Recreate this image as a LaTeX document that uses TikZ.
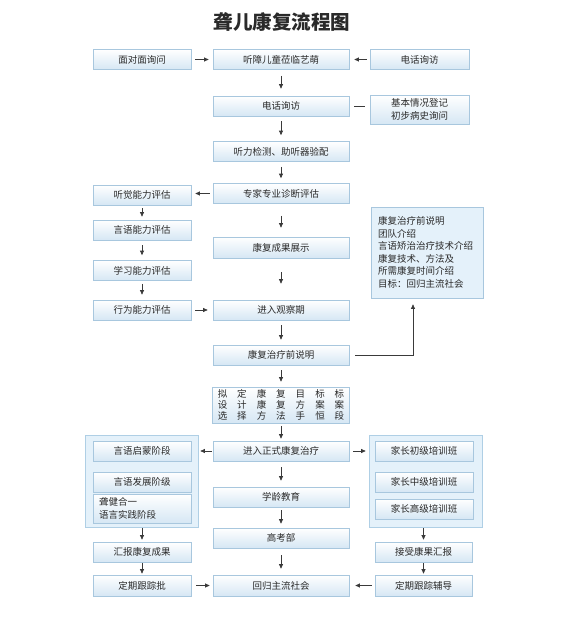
\documentclass[tikz,border=0pt]{standalone}
\usepackage{fontspec}
\setmainfont{Noto Sans CJK SC}
\usetikzlibrary{arrows.meta,calc}
\definecolor{bdr}{HTML}{A8C7DE}
\definecolor{fillb}{HTML}{D6E7F4}
\definecolor{grpfill}{HTML}{E4F1FA}
\definecolor{grpbdr}{HTML}{AFCFE5}
\definecolor{arrc}{HTML}{3A3A3A}
\definecolor{txt}{HTML}{2A2A2A}
\newcommand\boxfont{\fontsize{9.5}{12.5}\selectfont}
\newcommand\sevenrow[7]{\makebox[19.5pt]{#1}\makebox[19.5pt]{#2}\makebox[19.5pt]{#3}\makebox[19.5pt]{#4}\makebox[19.5pt]{#5}\makebox[19.5pt]{#6}\makebox[19.5pt]{#7}}
\begin{document}
\begin{tikzpicture}[x=1pt,y=-1pt,
  box/.style={draw=bdr, line width=0.7pt, top color=white, bottom color=fillb, minimum height=20pt, inner sep=0pt, font=\boxfont, text=txt, align=center},
  lw/.style={minimum width=98pt},
  cw/.style={minimum width=136pt},
  rw/.style={minimum width=99pt},
  grp/.style={draw=grpbdr, line width=0.7pt, fill=grpfill, inner sep=0pt},
  arr/.style={draw=arrc, line width=0.7pt, -{Triangle[length=4.5pt,width=4pt]}},
  ln/.style={draw=arrc, line width=0.7pt},
  shr/.style 2 args={shorten <=#1pt, shorten >=#2pt}
]
\useasboundingbox (0,0) rectangle (564,618);
\fill[white] (0,0) rectangle (564,618);
% title
\node[font=\fontsize{19.5}{22}\selectfont\bfseries, text=txt] (title) at (282,22) {聋儿康复流程图};
% groups first (background)
\node[grp, minimum width=113pt, minimum height=92pt] (LG) at (141.5,481) {};
\node[grp, minimum width=113pt, minimum height=92pt] (RG) at (425.5,481) {};
% row 1
\node[box,lw] (L1) at (142,59.5) {面对面询问};
\node[box,cw] (C1) at (281,59.5) {听障儿童莅临艺萌};
\node[box,rw] (R1) at (419.5,59.5) {电话询访};
% row 2
\node[box,cw] (C2) at (281,106) {电话询访};
\node[box,rw,minimum height=29pt,font=\fontsize{9.5}{13}\selectfont] (R2) at (419.5,109.5) {基本情况登记\\初步病史询问};
\node[box,cw] (C3) at (281,151.5) {听力检测、助听器验配};
\node[box,cw] (C4) at (281,193.5) {专家专业诊断评估};
\node[box,lw] (L4) at (142,195) {听觉能力评估};
\node[box,lw] (L5) at (142,230) {言语能力评估};
\node[box,cw,minimum height=21pt] (C5) at (281,247.5) {康复成果展示};
\node[box,lw] (L6) at (142,270.5) {学习能力评估};
\node[box,lw] (L7) at (142,310) {行为能力评估};
\node[box,cw] (C6) at (281,310) {进入观察期};
\node[grp, draw=bdr, minimum width=112pt, minimum height=91pt, text width=98pt, align=left, font=\fontsize{9.5}{12.5}\selectfont, text=txt] (RB) at (427,252.5) {康复治疗前说明\\团队介绍\\言语矫治治疗技术介绍\\康复技术、方法及\\所需康复时间介绍\\目标：回归主流社会};
\node[box,cw] (C7) at (281,355) {康复治疗前说明};
\node[box,cw,minimum height=36pt,font=\fontsize{9.5}{11}\selectfont] (C8) at (281,405) {\sevenrow{拟}{定}{康}{复}{目}{标}{标}\\\sevenrow{设}{计}{康}{复}{方}{案}{案}\\\sevenrow{选}{择}{方}{法}{手}{恒}{段}};
\node[box,cw] (C9) at (281,451) {进入正式康复治疗};
% left group inner
\node[box,lw] (LG1) at (142,451) {言语启蒙阶段};
\node[box,lw] (LG2) at (142,482) {言语发展阶级};
\node[box,lw,minimum height=29pt,text width=86pt,align=left,font=\fontsize{9.5}{13}\selectfont] (LG3) at (142,508.5) {聋健合一\\语言实践阶段};
% right group inner
\node[box,lw] (RG1) at (424,451) {家长初级培训班};
\node[box,lw] (RG2) at (424,482) {家长中级培训班};
\node[box,lw] (RG3) at (424,509) {家长高级培训班};
\node[box,cw] (C10) at (281,497) {学龄教育};
\node[box,cw] (C11) at (281,538) {高考部};
\node[box,lw] (L8) at (142,552) {汇报康复成果};
\node[box,minimum width=97pt] (R8) at (423.5,552) {接受康果汇报};
\node[box,lw,minimum height=21pt] (L9) at (142,585.5) {定期跟踪批};
\node[box,cw,minimum height=21pt] (C12) at (281,585.5) {回归主流社会};
\node[box,minimum width=97pt,minimum height=21pt] (R9) at (423.5,585.5) {定期跟踪辅导};
% connectors
\draw[arr,shr={4}{4}] (L1.east) -- (C1.west);
\draw[arr,shr={3}{5}] (R1.west) -- (C1.east);
\draw[arr,shr={6}{7}] (C1.south) -- (C2.north);
\draw[ln,shr={5}{5}] (C2.east) -- (C2.east -| R2.west);
\draw[arr,shr={5}{6}] (C2.south) -- (C3.north);
\draw[arr,shr={5}{5}] (C3.south) -- (C4.north);
\draw[arr,shr={3}{4}] (C4.west) -- (C4.west -| L4.east);
\draw[arr,shr={12}{9}] (C4.south) -- (C5.north);
\draw[arr,shr={14}{16}] (C5.south) -- (C6.north);
\draw[arr,shr={3}{3}] (L4.south) -- (L5.north);
\draw[arr,shr={5}{5}] (L5.south) -- (L6.north);
\draw[arr,shr={3}{5}] (L6.south) -- (L7.north);
\draw[arr,shr={4}{5}] (L7.east) -- (C6.west);
\draw[arr,shr={5}{5}] (C6.south) -- (C7.north);
\draw[arr,shr={6}{6}] (C7.east) -| ([xshift=-14pt]RB.south);
\draw[arr,shr={5}{5}] (C7.south) -- (C8.north);
\draw[arr,shr={3}{2}] (C8.south) -- (C9.north);
\draw[arr,shr={1}{2}] (C9.west) -- (C9.west -| LG.east);
\draw[arr,shr={4}{3}] (C9.east) -- (C9.east -| RG.west);
\draw[arr,shr={6}{6}] (C9.south) -- (C10.north);
\draw[arr,shr={3}{4}] (C10.south) -- (C11.north);
\draw[arr,shr={7}{6}] (C11.south) -- (C12.north);
\draw[arr,shr={1}{2}] (LG.south -| L8.north) -- (L8.north);
\draw[arr,shr={1}{2}] (RG.south -| R8.north) -- (R8.north);
\draw[arr,shr={1}{1}] (L8.south) -- (L9.north);
\draw[arr,shr={1}{1}] (R8.south) -- (R9.north);
\draw[arr,shr={5}{3}] (L9.east) -- (C12.west);
\draw[arr,shr={3}{6}] (R9.west) -- (C12.east);
\end{tikzpicture}
\end{document}
